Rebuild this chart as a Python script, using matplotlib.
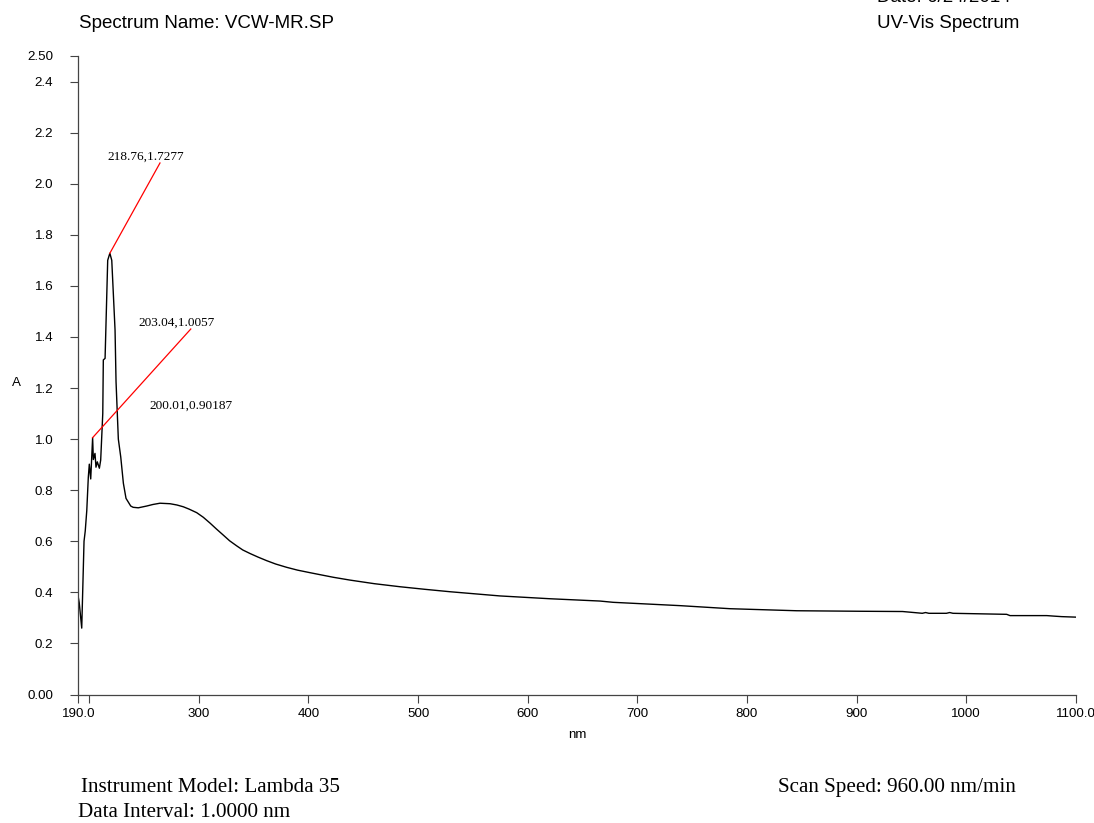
import matplotlib
matplotlib.use("Agg")
import matplotlib.pyplot as plt

# UV-Vis absorbance spectrum (wavelength in nm, absorbance A)
wavelength = [190.0, 190.8, 193.1, 195.2, 196.3, 197.7, 199.1, 200.01, 201.3, 203.04,
              203.7, 205.2, 206.1, 207.3, 209.2, 210.4, 212.3, 212.8, 214.4, 216.8,
              218.76, 220.5, 223.5, 224.4, 226.5, 228.7, 231.1, 233.5, 237.8, 240.0,
              244.7, 252.4, 258.0, 264.5, 273.7, 280.0, 285.8, 291.0, 298.0, 304.0,
              310.2, 316.0, 322.3, 328.0, 334.5, 340.0, 346.7, 354.0, 361.9, 370.0,
              380.1, 390.0, 401.4, 412.0, 422.7, 437.9, 460.0, 483.5, 506.0, 529.0,
              574.7, 620.3, 665.9, 678.0, 739.0, 784.6, 845.5, 903.0, 942.0, 955.0,
              960.0, 963.0, 966.0, 982.0, 985.0, 988.0, 1037.0, 1040.0, 1073.6, 1080.0,
              1087.0, 1100.0]
absorbance = [0.38, 0.36, 0.26, 0.60, 0.64, 0.72, 0.85, 0.90187, 0.844, 1.0057,
              0.92, 0.944, 0.89, 0.911, 0.886, 0.918, 1.10, 1.31, 1.316, 1.70,
              1.7277, 1.70, 1.427, 1.225, 1.00, 0.93, 0.827, 0.768, 0.738, 0.733,
              0.731, 0.738, 0.744, 0.749, 0.747, 0.742, 0.735, 0.726, 0.712, 0.694,
              0.671, 0.648, 0.624, 0.602, 0.582, 0.566, 0.552, 0.538, 0.524, 0.511,
              0.498, 0.487, 0.477, 0.468, 0.459, 0.448, 0.434, 0.422, 0.412, 0.4025,
              0.386, 0.375, 0.366, 0.361, 0.348, 0.336, 0.328, 0.326, 0.325, 0.320,
              0.318, 0.321, 0.318, 0.318, 0.321, 0.318, 0.314, 0.309, 0.309, 0.307,
              0.305, 0.303]

# Peak labels: (wavelength, absorbance)
peaks = [(218.76, 1.7277), (203.04, 1.0057), (200.01, 0.90187)]
peak_label_pos = [(251.8, 2.105), (279.8, 1.455), (292.6, 1.131)]
peak_line_end = [(264.5, 2.081), (292.6, 1.431), None]

x_ticks = [190, 200, 300, 400, 500, 600, 700, 800, 900, 1000, 1100]
x_tick_labels = ["190.0", "", "300", "400", "500", "600", "700", "800", "900", "1000", "1100.0"]
y_ticks = [0.0, 0.2, 0.4, 0.6, 0.8, 1.0, 1.2, 1.4, 1.6, 1.8, 2.0, 2.2, 2.4, 2.5]
y_tick_labels = ["0.00", "0.2", "0.4", "0.6", "0.8", "1.0", "1.2", "1.4", "1.6", "1.8",
                 "2.0", "2.2", "2.4", "2.50"]

sans = "Liberation Sans"
serif = "Liberation Serif"

fig = plt.figure(figsize=(10.94, 8.23), dpi=100)
ax = fig.add_axes([0.0716, 0.1561, 0.9117, 0.7759])

ax.plot(wavelength, absorbance, color="black", lw=1.0)

for (px, py), (tx, ty), end in zip(peaks, peak_label_pos, peak_line_end):
    if end is not None:
        ax.plot([px, end[0]], [py, end[1]], color="red", lw=0.9)
    ax.text(tx, ty, f"{px:g},{py:g}", family=serif, fontsize=9.5,
            ha="center", va="center")

ax.set_xlim(190, 1100)
ax.set_ylim(0, 2.5)
ax.set_xticks(x_ticks)
ax.set_xticklabels(x_tick_labels, family=sans, fontsize=9.6)
ax.set_yticks(y_ticks)
ax.set_yticklabels(y_tick_labels, family=sans, fontsize=9.6)
ax.tick_params(axis="both", direction="out", length=6, width=0.8, color="#444444")
ax.tick_params(axis="y", pad=12)
ax.tick_params(axis="x", pad=4)

for side in ("top", "right"):
    ax.spines[side].set_visible(False)
for side in ("left", "bottom"):
    ax.spines[side].set_color("#444444")
    ax.spines[side].set_linewidth(0.9)

ax.set_xlabel("nm", family=sans, fontsize=9.6, labelpad=6)
fig.text(0.011, 0.5346, "A", family=sans, fontsize=9.6, ha="left", va="center")

# Header
fig.text(0.0722, 0.9715, "Spectrum Name: VCW-MR.SP", family=sans, fontsize=13.5,
         ha="left", va="center")
fig.text(0.8016, 0.9972, "Date: 6/24/2014", family=sans, fontsize=13.5,
         ha="left", va="baseline")
fig.text(0.8016, 0.9715, "UV-Vis Spectrum", family=sans, fontsize=13.5,
         ha="left", va="center")

# Footer
fig.text(0.074, 0.043, "Instrument Model: Lambda 35", family=serif, fontsize=15.2,
         ha="left", va="center")
fig.text(0.071, 0.013, "Data Interval: 1.0000 nm", family=serif, fontsize=15.2,
         ha="left", va="center")
fig.text(0.711, 0.043, "Scan Speed: 960.00 nm/min", family=serif, fontsize=15.2,
         ha="left", va="center")

fig.savefig("out.png", dpi=100)
